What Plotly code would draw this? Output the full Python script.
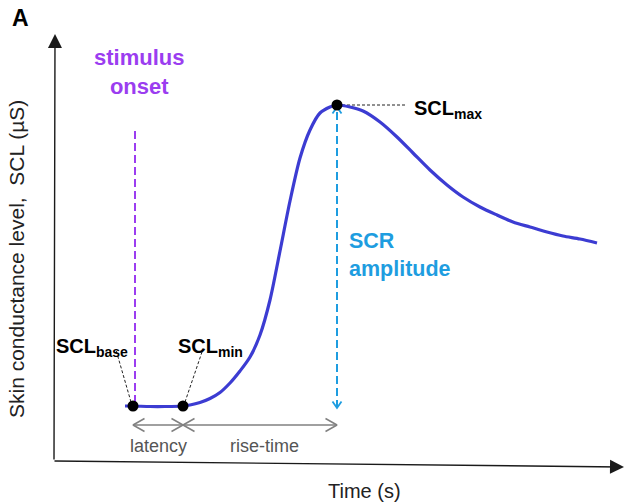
import plotly.graph_objects as go

# ---------------- data (time in s, SCL in µS; schematic) ----------------
time_s = [1.44, 1.60, 1.94, 2.24, 2.60, 2.74, 2.94, 3.14, 3.34, 3.54, 3.74, 3.94, 4.14, 4.34,
          4.54, 4.74, 4.94, 5.14, 5.34, 5.54, 5.68, 5.94, 6.20, 6.54, 6.88, 7.20,
          7.54, 7.88, 8.20, 8.54, 8.88, 9.20, 9.54, 9.88, 10.20, 10.54, 10.88]
scl_uS = [1.10, 1.10, 1.09, 1.09, 1.10, 1.12, 1.17, 1.25, 1.37, 1.56, 1.80, 2.08, 2.52, 3.22,
          4.20, 5.20, 6.06, 6.62, 6.96, 7.08, 7.12, 7.08, 7.00, 6.78, 6.48, 6.16,
          5.82, 5.52, 5.28, 5.08, 4.92, 4.78, 4.68, 4.58, 4.50, 4.44, 4.36]

key_names = ["base", "min", "max"]
key_time = [1.60, 2.60, 5.68]
key_scl = [1.10, 1.10, 7.12]
stimulus_onset_t = 1.64

# ---------------- helpers ----------------
W, H = 626, 504
X0, X1 = -1.06, 11.46
Y0, Y1 = -0.86, 9.22


def px(xp):
    return xp / W


def py(yp):
    return 1 - yp / H


def dx_(xp):
    return X0 + xp / W * (X1 - X0)


def dy_(yp):
    return Y1 - yp / H * (Y1 - Y0)


def chevron(tip, direction, L, Hh):
    (tx, ty), (dx, dy) = tip, direction
    bx, by = tx - L * dx, ty - L * dy
    pxv, pyv = -dy, dx
    return [bx + Hh * pxv, tx, bx - Hh * pxv, None], [by + Hh * pyv, ty, by - Hh * pyv, None]


fig = go.Figure()

t_base, t_min, t_max = key_time
s_base, s_min, s_max = key_scl

# stimulus onset dashed line
fig.add_trace(go.Scatter(x=[stimulus_onset_t, stimulus_onset_t], y=[s_base + 0.06, s_max - 0.5],
                         mode="lines", line=dict(color="#9b3df0", width=2, dash="8px,4px"),
                         hoverinfo="skip"))

# SCR amplitude dashed arrow
amp_lo, amp_hi = s_min - 0.04, s_max - 0.04
fig.add_trace(go.Scatter(x=[t_max, t_max], y=[amp_lo, amp_hi], mode="lines",
                         line=dict(color="#1e9de0", width=2, dash="8px,4px"), hoverinfo="skip"))
cx, cy = [], []
for tip, d in [((t_max, amp_hi), (0, 1)), ((t_max, amp_lo), (0, -1))]:
    a, b = chevron(tip, d, 0.13, 0.09)
    cx += a
    cy += b
fig.add_trace(go.Scatter(x=cx, y=cy, mode="lines", line=dict(color="#1e9de0", width=1.8),
                         hoverinfo="skip"))

# latency / rise-time arrows
arr_s = s_base - 0.38
fig.add_trace(go.Scatter(x=[t_base, t_max], y=[arr_s, arr_s], mode="lines",
                         line=dict(color="#808080", width=1.5), hoverinfo="skip"))
gx, gy = [], []
for tip, d in [((t_base, arr_s), (-1, 0)), ((t_min, arr_s), (1, 0)),
               ((t_min, arr_s), (-1, 0)), ((t_max, arr_s), (1, 0))]:
    a, b = chevron(tip, d, 0.23, 0.13)
    gx += a
    gy += b
fig.add_trace(go.Scatter(x=gx, y=gy, mode="lines", line=dict(color="#808080", width=1.5),
                         hoverinfo="skip"))

# leader lines
lead_x = [t_base - 0.04, t_base - 0.34, None, t_min + 0.04, t_min + 0.38, None, t_max, t_max + 1.36]
lead_y = [s_base + 0.08, s_base + 1.12, None, s_min + 0.08, s_min + 1.08, None, s_max, s_max]
fig.add_trace(go.Scatter(x=lead_x, y=lead_y, mode="lines",
                         line=dict(color="#222222", width=1, dash="3px,2px"), hoverinfo="skip"))

# SCL curve
fig.add_trace(go.Scatter(x=time_s, y=scl_uS, mode="lines", line=dict(color="#3c3cd2", width=3.2,
                                                                      shape="spline", smoothing=0.8),
                         hoverinfo="skip"))

# key points
fig.add_trace(go.Scatter(x=key_time, y=key_scl, mode="markers",
                         marker=dict(color="black", size=11), hoverinfo="skip"))

FONT = "Arial, Liberation Sans, sans-serif"
ann = []
# axes arrows
ann.append(dict(x=dx_(55), y=dy_(34), ax=dx_(54), ay=dy_(461), xref="x", yref="y",
                axref="x", ayref="y", showarrow=True, arrowhead=2, arrowsize=2,
                arrowwidth=1.4, arrowcolor="#1a1a1a", text=""))
ann.append(dict(x=dx_(624), y=dy_(467), ax=dx_(53), ay=dy_(461), xref="x", yref="y",
                axref="x", ayref="y", showarrow=True, arrowhead=2, arrowsize=2,
                arrowwidth=1.4, arrowcolor="#1a1a1a", text=""))


def label(text, xp, yp, size=20, color="black", bold=False, xanchor="center", yanchor="middle",
          angle=0, align="center"):
    if bold:
        text = "<b>" + text.replace("<br>", "</b><br><b>") + "</b>"
    ann.append(dict(x=px(xp), y=py(yp), xref="paper", yref="paper", text=text, showarrow=False,
                    xanchor=xanchor, yanchor=yanchor, textangle=angle, align=align,
                    font=dict(family=FONT, size=size, color=color)))


label("A", 20, 18, size=23, bold=True)
label("stimulus<br>onset", 139, 72, size=22, color="#9b3df0", bold=True)
label("SCL<sub>base</sub>", 54, 347, size=20, bold=True, xanchor="left")
label("SCL<sub>min</sub>", 176, 347, size=20, bold=True, xanchor="left")
label("SCL<sub>max</sub>", 412, 109, size=20, bold=True, xanchor="left")
label("SCR<br>amplitude", 347, 255, size=21.5, color="#1e9de0", bold=True, xanchor="left", align="left")
label("latency", 158, 446, size=18, color="#555555")
label("rise-time", 264, 446, size=18, color="#555555")
label("Time (s)", 364, 491, size=20, color="#222222")
label("Skin conductance level,  SCL (µS)", 16, 259, size=21, color="#222222", angle=-90)

fig.update_layout(
    width=W, height=H, margin=dict(l=0, r=0, t=0, b=0),
    paper_bgcolor="white", plot_bgcolor="white", showlegend=False,
    xaxis=dict(range=[X0, X1], visible=False, fixedrange=True),
    yaxis=dict(range=[Y0, Y1], visible=False, fixedrange=True),
    annotations=ann,
)
fig.write_html("out.html", config={"displayModeBar": False},
               post_script="document.body.style.margin='0';document.body.style.overflow='hidden';")
